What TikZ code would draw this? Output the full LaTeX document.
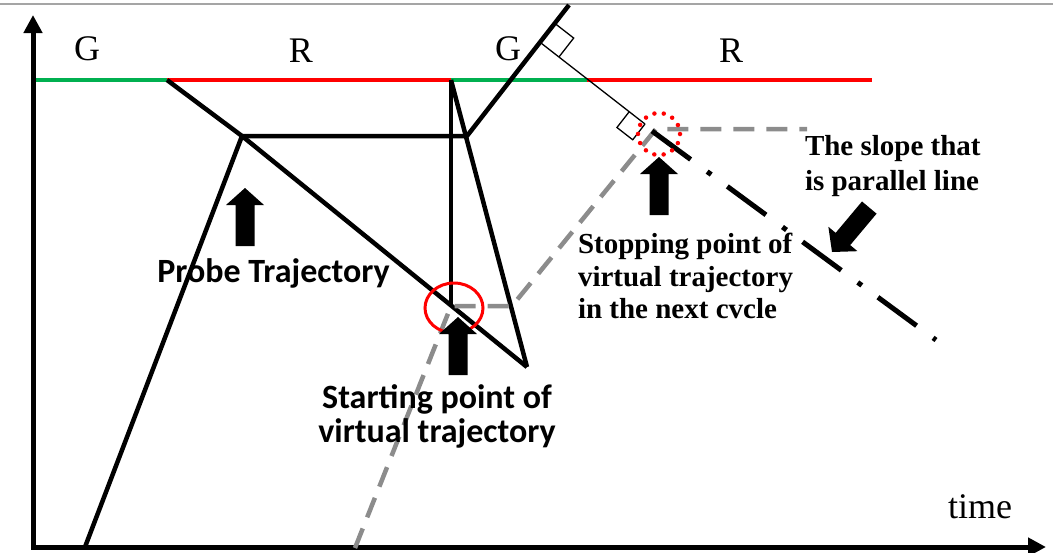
\documentclass[tikz,border=0pt]{standalone}
\usepackage{fontspec}
\setmainfont{Liberation Serif}
\newfontfamily\labsans{Carlito}
\usetikzlibrary{arrows.meta,calc}
\definecolor{sigred}{RGB}{255,0,0}
\definecolor{siggreen}{RGB}{0,176,80}
\definecolor{virtgray}{RGB}{140,140,140}
\definecolor{framegray}{RGB}{165,165,165}

\begin{document}
\begin{tikzpicture}[x=1pt,y=-1pt,
  every node/.style={inner sep=0pt, outer sep=0pt},
  axisline/.style={line width=5pt, {Triangle[length=18pt,width=18pt]}-{Triangle[length=18pt,width=18pt]}},
  sigphase/.style={line width=4pt},
  traj/.style={line width=4.5pt},
  virt/.style={draw=virtgray, line width=4.5pt, dash pattern=on 21pt off 12pt},
  guide/.style={line width=1.3pt},
  parline/.style={line width=5pt, dash pattern=on 48pt off 20.5pt on 5pt off 20pt},
  phaselabel/.style={font=\fontsize{36}{42}\selectfont, anchor=base},
  boldsans/.style={font=\labsans\bfseries\fontsize{34}{40}\selectfont, anchor=base},
  boldserif/.style={font=\bfseries\fontsize{29}{33}\selectfont, anchor=base west},
  blockarrow/.pic={\fill (0,0) -- (19,17) -- (9.5,17) -- (9.5,58) -- (-9.5,58) -- (-9.5,17) -- (-19,17) -- cycle;}
]
\useasboundingbox (0,0) rectangle (1053,552);

% frame line along the top
\draw[framegray, line width=2pt] (0,4) -- (1053,4);

% axes
\coordinate (o) at (33,547);
\coordinate (ytip) at (33,15);
\coordinate (xtip) at (1046,547);
\draw[axisline] (ytip) -- (o) -- (xtip);

% signal phases at the stop line
\coordinate (s0) at (36,80);
\coordinate (s1) at (167,80);
\coordinate (s2) at (451,80);
\coordinate (s3) at (587,80);
\coordinate (s4) at (872,80);
\draw[sigphase, siggreen] (s0) -- (s1);
\draw[sigphase, sigred] (s1) -- (s2);
\draw[sigphase, siggreen] (s2) -- (s3);
\draw[sigphase, sigred] (s3) -- (s4);

% probe trajectory and queue shock waves
\coordinate (p0) at (85,547);
\coordinate (p1) at (242,136);
\coordinate (p2) at (467,136);
\coordinate (p3) at (569,5);
\coordinate (p4) at (451,306);
\coordinate (p5) at (527,367);
\draw[traj] (p0) -- (p1) -- (p2) -- (p3);
\draw[traj] (s1) -- (p1) -- (p5);
\draw[traj] (s2) -- (p4);
\draw[traj] (s2) -- (p5);

% virtual trajectory
\coordinate (v0) at (355,548);
\coordinate (v1) at (451,306);
\coordinate (v2) at (512,306);
\coordinate (v3) at (656,129);
\coordinate (v4) at (807,129);
\draw[virt] (v0) -- (v1) -- (v2) -- (v3) -- (v4);

% perpendicular offset between the parallel departure lines
\coordinate (e) at (645,124);
\coordinate (f) at ($(p2)!(e)!(p3)$);
\draw[guide] (f) -- (e);
\coordinate (fa) at ($(f)!24pt!(p3)$);
\coordinate (fb) at ($(f)!24pt!(e)$);
\coordinate (fc) at ($(fa)+(fb)-(f)$);
\draw[guide] (fa) -- (fc) -- (fb);
\coordinate (ed) at ($(e)+(p2)-(p3)$);
\coordinate (ea) at ($(e)!20pt!(f)$);
\coordinate (eb) at ($(e)!20pt!(ed)$);
\coordinate (ec) at ($(ea)+(eb)-(e)$);
\draw[guide] (ea) -- (ec) -- (eb) -- (e);

% slope parallel to the deceleration wave
\coordinate (q0) at (652,131);
\coordinate (q1) at (936,340);
\draw[parline] (q0) -- (q1);

% markers of the start and stop points
\draw[sigred, line width=3pt] (454,308) ellipse [x radius=29, y radius=25];
\draw[sigred, line width=4.5pt, dash pattern=on 0pt off 9.42pt, line cap=round] (659,134) circle [radius=21];

% block arrows
\pic (arrprobe) at (245,188) {blockarrow};
\pic (arrstart) at (458,317) {blockarrow};
\pic (arrstop) at (659,157) {blockarrow};
\pic[rotate=140] (arrslope) at (832,252) {blockarrow};

% phase labels
\node[phaselabel] (g1) at (87,60) {G};
\node[phaselabel] (r1) at (301,62) {R};
\node[phaselabel] (g2) at (508,60) {G};
\node[phaselabel] (r2) at (731,62) {R};
\node[phaselabel, anchor=base west] (tlabel) at (948,518) {time};

% annotations
\node[boldsans] (probe) at (273.5,282) {Probe Trajectory};
\node[boldsans] (start1) at (437,408) {Starting point of};
\node[boldsans] (start2) at (437,442) {virtual trajectory};
\node[boldserif] (stop1) at (578,253) {Stopping point of};
\node[boldserif] (stop2) at (578,286) {virtual trajectory};
\node[boldserif] (stop3) at (578,318) {in the next cvcle};
\node[boldserif] (slope1) at (805,155) {The slope that};
\node[boldserif] (slope2) at (805,190) {is parallel line};
\end{tikzpicture}
\end{document}
